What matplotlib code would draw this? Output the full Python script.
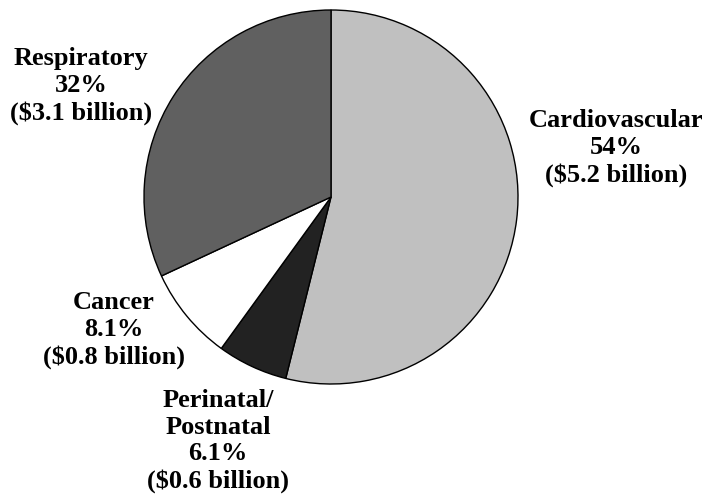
import matplotlib
matplotlib.use("Agg")
import matplotlib.pyplot as plt

categories = ["Cardiovascular", "Perinatal/\nPostnatal", "Cancer", "Respiratory"]
shares = [54, 6.1, 8.1, 32]
costs = [5.2, 0.6, 0.8, 3.1]
colors = ["#c0c0c0", "#222222", "#ffffff", "#606060"]

# label centres in pixel coordinates (x from left, y from top)
label_pos = [(616, 148), (218, 441), (114, 330), (81, 86)]

W, H = 704, 496
fig = plt.figure(figsize=(W / 100, H / 100), dpi=100)
cx, cy, r = 331, 197, 187
ax = fig.add_axes([(cx - r) / W, (H - cy - r) / H, 2 * r / W, 2 * r / H])
ax.pie(shares, colors=colors, startangle=90, counterclock=False,
       wedgeprops=dict(edgecolor="black", linewidth=1.0), radius=1.0,
       normalize=True)
ax.set_xlim(-1.0, 1.0)
ax.set_ylim(-1.0, 1.0)
ax.set_aspect("auto")
ax.axis("off")

for cat, s, c, (px, py) in zip(categories, shares, costs, label_pos):
    txt = f"{cat}\n{s:g}%\n(${c:.1f} billion)"
    fig.text(px / W, 1 - py / H, txt, ha="center", va="center",
             multialignment="center", fontsize=19, fontweight="bold",
             family="Liberation Serif", linespacing=1.2)

fig.savefig("out.png", dpi=100)
